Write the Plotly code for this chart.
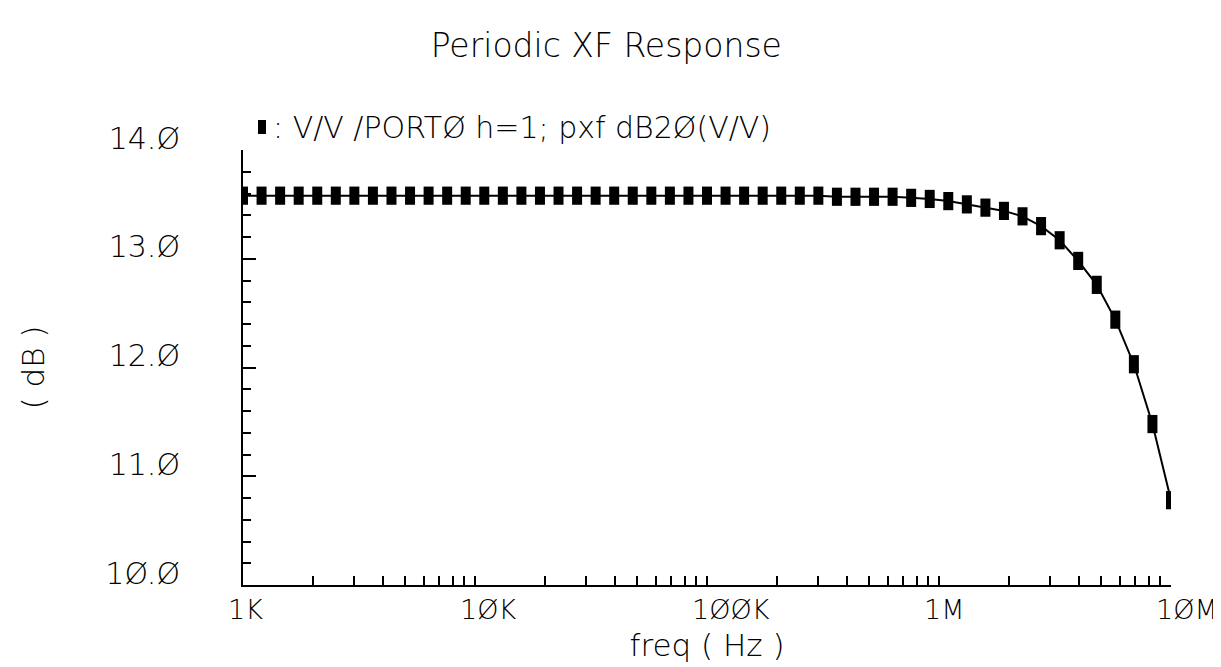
import math
import plotly.graph_objects as go

# ---- data ----
freq_hz = [1000.0, 1202.3, 1445.4, 1737.8, 2089.3, 2511.9, 3019.95, 3630.8, 4365.2, 5248.1,
           6309.6, 7585.8, 9120.1, 10965, 13183, 15849, 19055, 22909, 27542, 33113,
           39811, 47863, 57544, 69183, 83176, 100000, 120230, 144540, 173780, 208930,
           251190, 301990, 363080, 436520, 524810, 630960, 758580, 912010, 1096500, 1318300,
           1584900, 1905500, 2290900, 2754200, 3311300, 3981100, 4786300, 5754400, 6918300, 8317600,
           10000000]
gain_db = [13.58, 13.58, 13.58, 13.58, 13.58, 13.58, 13.58, 13.58, 13.58, 13.58,
           13.58, 13.58, 13.58, 13.58, 13.58, 13.58, 13.58, 13.58, 13.58, 13.58,
           13.58, 13.58, 13.58, 13.58, 13.58, 13.58, 13.58, 13.58, 13.58, 13.58,
           13.58, 13.58, 13.57, 13.57, 13.57, 13.57, 13.56, 13.55, 13.53, 13.50,
           13.47, 13.44, 13.39, 13.30, 13.17, 12.98, 12.76, 12.44, 12.03, 11.48,
           10.78]

title_text = "Periodic XF Response"
legend_text = ": V/V /PORTØ h=1; pxf dB2Ø(V/V)"
x_title = "freq ( Hz )"
y_title = "( dB )"

x_tickvals = [1e3, 1e4, 1e5, 1e6, 1e7]
x_ticktext = ["1K", "1ØK", "1ØØK", "1M", "1ØM"]
x_minor_mult = [2, 3, 4, 5, 6, 7, 8, 9]
y_tickvals = [10, 11, 12, 13, 14]
y_ticktext = ["1Ø.Ø", "11.Ø", "12.Ø", "13.Ø", "14.Ø"]

FONT = "DejaVu Sans"
W = 200
BLACK = "#000000"


def f(size):
    return dict(family=FONT, size=size, color=BLACK, weight=W)


x_minor_vals = [m * d for d in x_tickvals[:-1] for m in x_minor_mult]

fig = go.Figure()
fig.add_trace(go.Scatter(
    x=freq_hz, y=gain_db, mode="lines+markers",
    line=dict(color=BLACK, width=2),
    marker=dict(symbol="line-ns", size=13, color=BLACK,
                line=dict(color=BLACK, width=10)),
    showlegend=False,
))

fig.update_layout(
    width=1221, height=667,
    margin=dict(l=235, r=58, t=142, b=90),
    paper_bgcolor="white", plot_bgcolor="white",
    font=f(30),
    title=dict(text=title_text, x=0.49, xanchor="center",
               y=1 - 37 / 667, yanchor="middle", font=f(33)),
    showlegend=False,
)

fig.update_xaxes(
    type="log", range=[3, 7],
    showline=True, linewidth=2, linecolor=BLACK, mirror=False,
    showgrid=False, zeroline=False,
    tickmode="array", tickvals=x_tickvals, showticklabels=False,
    ticks="inside", ticklen=9, tickwidth=2, tickcolor=BLACK,
    minor=dict(tickmode="array", tickvals=x_minor_vals, ticks="inside",
               ticklen=9, tickwidth=2, tickcolor=BLACK, showgrid=False),
    title=dict(text=x_title, font=f(31), standoff=48),
)

fig.update_yaxes(
    range=[10, 14],
    showline=True, linewidth=2, linecolor=BLACK, mirror=False,
    showgrid=False, zeroline=False,
    tickmode="array", tickvals=y_tickvals, ticktext=y_ticktext,
    ticks="inside", ticklen=13, tickwidth=2, tickcolor=BLACK,
    tickfont=f(30),
    ticklabelstandoff=55, ticklabelshift=-12,
    minor=dict(dtick=0.2, ticks="inside", ticklen=8, tickwidth=2,
               tickcolor=BLACK, showgrid=False),
    title=dict(text=y_title, font=f(31), standoff=52),
)

# x tick labels, left-aligned just before each decade tick
for v, t in zip(x_tickvals, x_ticktext):
    fig.add_annotation(x=math.log10(v), xref="x", y=0, yref="paper",
                       text=t, showarrow=False, xanchor="left", yanchor="middle",
                       xshift=-17, yshift=-24, font=f(27))

# legend: marker swatch + label
fig.add_shape(type="rect", xref="paper", yref="paper",
              xsizemode="pixel", ysizemode="pixel",
              xanchor=0, yanchor=1, x0=15, x1=23, y0=16, y1=30,
              fillcolor=BLACK, line=dict(width=0))
fig.add_annotation(x=0, xref="paper", y=1, yref="paper", text=legend_text,
                   showarrow=False, xanchor="left", yanchor="middle",
                   xshift=28, yshift=23, font=f(30))

fig.write_html("out.html")
